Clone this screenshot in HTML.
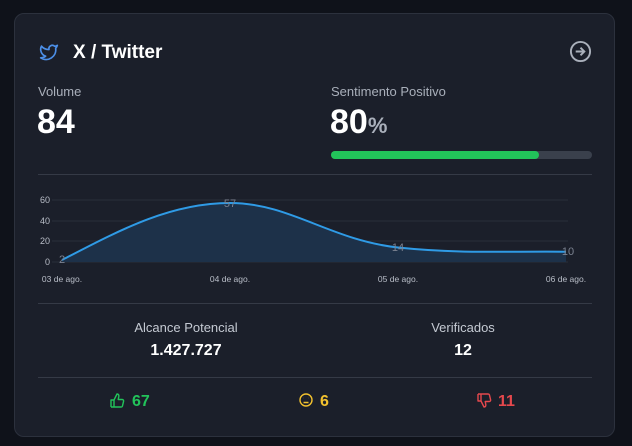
<!DOCTYPE html>
<html><head><style>
body{margin:0;width:632px;height:446px;background:#0f121a;font-family:"Liberation Sans",sans-serif;overflow:hidden;position:relative}
.card{position:absolute;left:14px;top:13px;width:601px;height:424px;background:#1b1f2a;border:1px solid #2c313d;border-radius:10px;box-sizing:border-box}
.t{position:absolute;color:#fff;white-space:nowrap}
.hr{position:absolute;left:38px;width:554px;height:1px;background:#353a46}
</style></head><body>
<div class="card"></div>
<svg style="position:absolute;left:37px;top:42px" width="24" height="20" viewBox="0 0 24 24"><path d="M22 4s-.7 2.1-2 3.4c1.6 10-9.4 17.3-18 11.6 2.2.1 4.4-.6 6-2C3 15.5.5 9.6 3 5c2.2 2.6 5.6 4.1 9 4-.9-4.2 4-6.6 7-3.8 1.1 0 3-1.2 3-1.2z" fill="none" stroke="#4c8fe8" stroke-width="2" stroke-linejoin="round"/></svg>
<div class="t" style="left:73px;top:42px;font-size:19px;font-weight:bold">X / Twitter</div>
<svg style="position:absolute;left:569px;top:40px" width="23" height="23" viewBox="0 0 24 24"><circle cx="12" cy="12" r="10" fill="none" stroke="#aab0bb" stroke-width="2"/><path d="M7 12h9M12 8l4 4-4 4" fill="none" stroke="#aab0bb" stroke-width="2"/></svg>
<div class="t" style="left:38px;top:84px;font-size:13px;color:#a9afba">Volume</div>
<div class="t" style="left:37px;top:103px;font-size:34px;font-weight:bold">84</div>
<div class="t" style="left:331px;top:84px;font-size:13px;color:#a9afba">Sentimento Positivo</div>
<div class="t" style="left:330px;top:103px;font-size:34px;font-weight:bold">80<span style="font-size:22px;color:#aab0bb">%</span></div>
<div style="position:absolute;left:331px;top:151px;width:261px;height:8px;border-radius:4px;background:#3a404c"><div style="width:208px;height:8px;border-radius:4px;background:#22c35a"></div></div>
<div class="hr" style="top:174px"></div>
<svg style="position:absolute;left:0;top:0" width="632" height="446">
<g stroke="#2a2f3b" stroke-width="1"><line x1="52" y1="200" x2="568" y2="200"/><line x1="52" y1="221" x2="568" y2="221"/><line x1="52" y1="241" x2="568" y2="241"/><line x1="52" y1="262" x2="568" y2="262"/></g>
<g font-size="9" fill="#b9bec8" text-anchor="end"><text x="50" y="203">60</text><text x="50" y="224">40</text><text x="50" y="244">20</text><text x="50" y="265">0</text></g>
<g font-size="8.5" fill="#b9bec8" text-anchor="middle"><text x="62" y="282">03 de ago.</text><text x="230" y="282">04 de ago.</text><text x="398" y="282">05 de ago.</text><text x="566" y="282">06 de ago.</text></g>
<path d="M62 260 C120 230,170 203,230 203 C290 203,330 240,398 247.5 C460 254,510 251,566 251.7 L566 262 L62 262Z" fill="#1d3149"/>
<path d="M62 260 C120 230,170 203,230 203 C290 203,330 240,398 247.5 C460 254,510 251,566 251.7" fill="none" stroke="#2f9be6" stroke-width="2"/>
<g font-size="11" fill="#7b8290" text-anchor="middle"><text x="62" y="263">2</text><text x="230" y="207">57</text><text x="398" y="251">14</text><text x="568" y="255">10</text></g>
<g fill="none" stroke-width="1.4" stroke-linejoin="round">
<path d="M111 407v-7h3l3-6c1.5 0 2 1 1.8 2.5l-.6 3h4c1 0 1.6.8 1.4 1.7l-1.2 5c-.2.6-.7.8-1.3.8H114v-7M111 407h3" stroke="#22c35a"/>
<circle cx="306" cy="400" r="6" stroke="#f2c12e"/>
<path d="M303.5 398h.1M308.5 398h.1M303.5 402.5h5" stroke="#f2c12e"/>
<path d="M478 394v7h3l3 6c1.5 0 2-1 1.8-2.5l-.6-3h4c1 0 1.6-.8 1.4-1.7l-1.2-5c-.2-.6-.7-.8-1.3-.8H481v7M478 394h3" stroke="#e5484d"/>
</g>
<g font-size="16" font-weight="bold"><text x="132" y="406" fill="#22c35a">67</text><text x="320" y="406" fill="#f2c12e">6</text><text x="498" y="406" fill="#e5484d">11</text></g>
</svg>
<div class="hr" style="top:303px"></div>
<div class="t" style="left:186px;top:320px;font-size:13px;color:#c5cad3;transform:translateX(-50%)">Alcance Potencial</div>
<div class="t" style="left:186px;top:342px;font-size:16px;font-weight:bold;transform:translateX(-50%)">1.427.727</div>
<div class="t" style="left:463px;top:320px;font-size:13px;color:#c5cad3;transform:translateX(-50%)">Verificados</div>
<div class="t" style="left:463px;top:342px;font-size:16px;font-weight:bold;transform:translateX(-50%)">12</div>
<div class="hr" style="top:377px"></div>
</body></html>
